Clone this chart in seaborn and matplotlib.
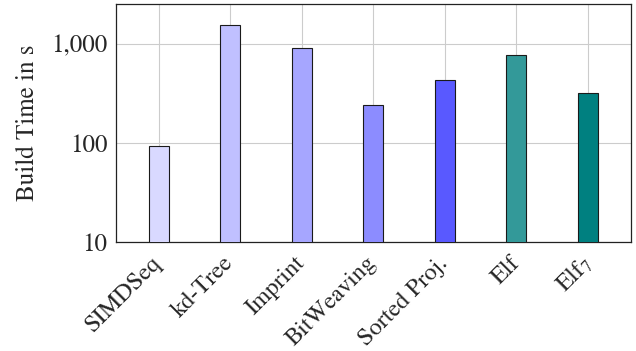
import matplotlib
matplotlib.use("Agg")
import pandas as pd
import seaborn as sns
import matplotlib.pyplot as plt
from matplotlib.ticker import FuncFormatter, LogLocator, NullFormatter

methods = ["SIMDSeq", "kd-Tree", "Imprint", "BitWeaving", "Sorted Proj.", "Elf", "Elf$_7$"]
build_time = [93, 1545, 918, 240, 433, 770, 316]
colors = ["#d9d9ff", "#c0c0ff", "#a6a6ff", "#8c8cff", "#5959ff", "#339999", "#008080"]

sns.set_style("white")
plt.rcParams["font.family"] = "serif"
plt.rcParams["font.serif"] = ["STIXGeneral", "Liberation Serif", "DejaVu Serif"]
plt.rcParams["mathtext.fontset"] = "stix"

df = pd.DataFrame({"method": methods, "time": build_time})

fig, ax = plt.subplots(figsize=(6.36, 3.51), dpi=100)
sns.barplot(data=df, x="method", y="time", hue="method", palette=colors,
            legend=False, width=0.28, edgecolor="#1a1a1a", linewidth=0.8,
            saturation=1, ax=ax, zorder=3)

ax.set_yscale("log")
ax.set_ylim(10, 2535)
ax.set_xlim(-0.6, 6.6)
ax.yaxis.set_major_locator(LogLocator(base=10, numticks=10))
ax.yaxis.set_minor_locator(LogLocator(base=10, subs=range(2, 10), numticks=20))
ax.yaxis.set_minor_formatter(NullFormatter())
ax.yaxis.set_major_formatter(FuncFormatter(lambda v, p: f"{int(round(v)):,}"))

ax.grid(True, which="major", color="#cccccc", linewidth=0.8, zorder=0)
ax.set_axisbelow(True)

ax.tick_params(axis="y", which="major", direction="in", length=7, width=0.8,
               color="#555555", labelsize=18, pad=6)
ax.tick_params(axis="y", which="minor", direction="in", length=5, width=0.6,
               color="#999999")
ax.tick_params(axis="x", direction="out", length=4, width=0.8, color="#aaaaaa",
               labelsize=17.5, pad=9)
plt.setp(ax.get_xticklabels(), rotation=45, ha="right", va="center",
         rotation_mode="anchor")

for s in ax.spines.values():
    s.set_color("#222222")
    s.set_linewidth(0.9)

ax.set_xlabel("")
ax.set_ylabel("Build Time in s", fontsize=18, labelpad=8)

fig.subplots_adjust(left=0.182, right=0.992, top=0.989, bottom=0.311)
fig.savefig("out.png", dpi=100)
